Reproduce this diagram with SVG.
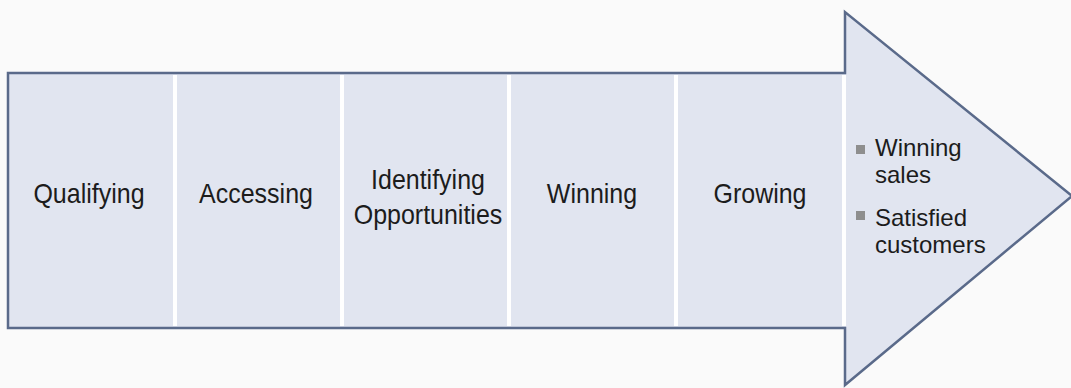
<svg xmlns="http://www.w3.org/2000/svg" width="1071" height="388" viewBox="0 0 1071 388">
<style>
.lbl{font-family:"Liberation Sans",Arial,sans-serif;font-size:25px;fill:#1c1c1c;text-anchor:middle}
.bl{font-family:"Liberation Sans",Arial,sans-serif;font-size:24px;fill:#1c1c1c}
.div{stroke:#ffffff;stroke-width:4}
.bul{fill:#8e8e8e}
</style>
<rect x="0" y="0" width="1071" height="388" fill="#fafafa"/>
<g id="arrow">
<polygon points="8,73 845,73 845,12 1072,196 845,385 845,328 8,328" fill="#e1e5f0" stroke="#5a6a8a" stroke-width="2.5" stroke-linejoin="miter"/>
</g>
<g id="dividers">
<line class="div" x1="175" y1="75" x2="175" y2="326"/>
<line class="div" x1="342" y1="75" x2="342" y2="326"/>
<line class="div" x1="509" y1="75" x2="509" y2="326"/>
<line class="div" x1="676" y1="75" x2="676" y2="326"/>
<line class="div" x1="844" y1="75" x2="844" y2="326"/>
</g>
<g id="qualifying"><g transform="translate(89,203) scale(1,1.1)"><text class="lbl" x="0" y="0">Qualifying</text></g></g>
<g id="accessing"><g transform="translate(256,203) scale(1,1.1)"><text class="lbl" x="0" y="0">Accessing</text></g></g>
<g id="identifying"><g transform="translate(428,189) scale(1,1.1)"><text class="lbl" x="0" y="0">Identifying</text></g><g transform="translate(428,224) scale(1,1.1)"><text class="lbl" x="0" y="0">Opportunities</text></g></g>
<g id="winning"><g transform="translate(592,203) scale(1,1.1)"><text class="lbl" x="0" y="0">Winning</text></g></g>
<g id="growing"><g transform="translate(760,203) scale(1,1.1)"><text class="lbl" x="0" y="0">Growing</text></g></g>
<g id="outcomes">
<rect class="bul" x="856" y="145" width="9" height="9"/>
<rect class="bul" x="856" y="211" width="9" height="9"/>
<text class="bl" x="875" y="156">Winning</text>
<text class="bl" x="875" y="183">sales</text>
<text class="bl" x="875" y="226">Satisfied</text>
<text class="bl" x="875" y="253">customers</text>
</g>
</svg>
